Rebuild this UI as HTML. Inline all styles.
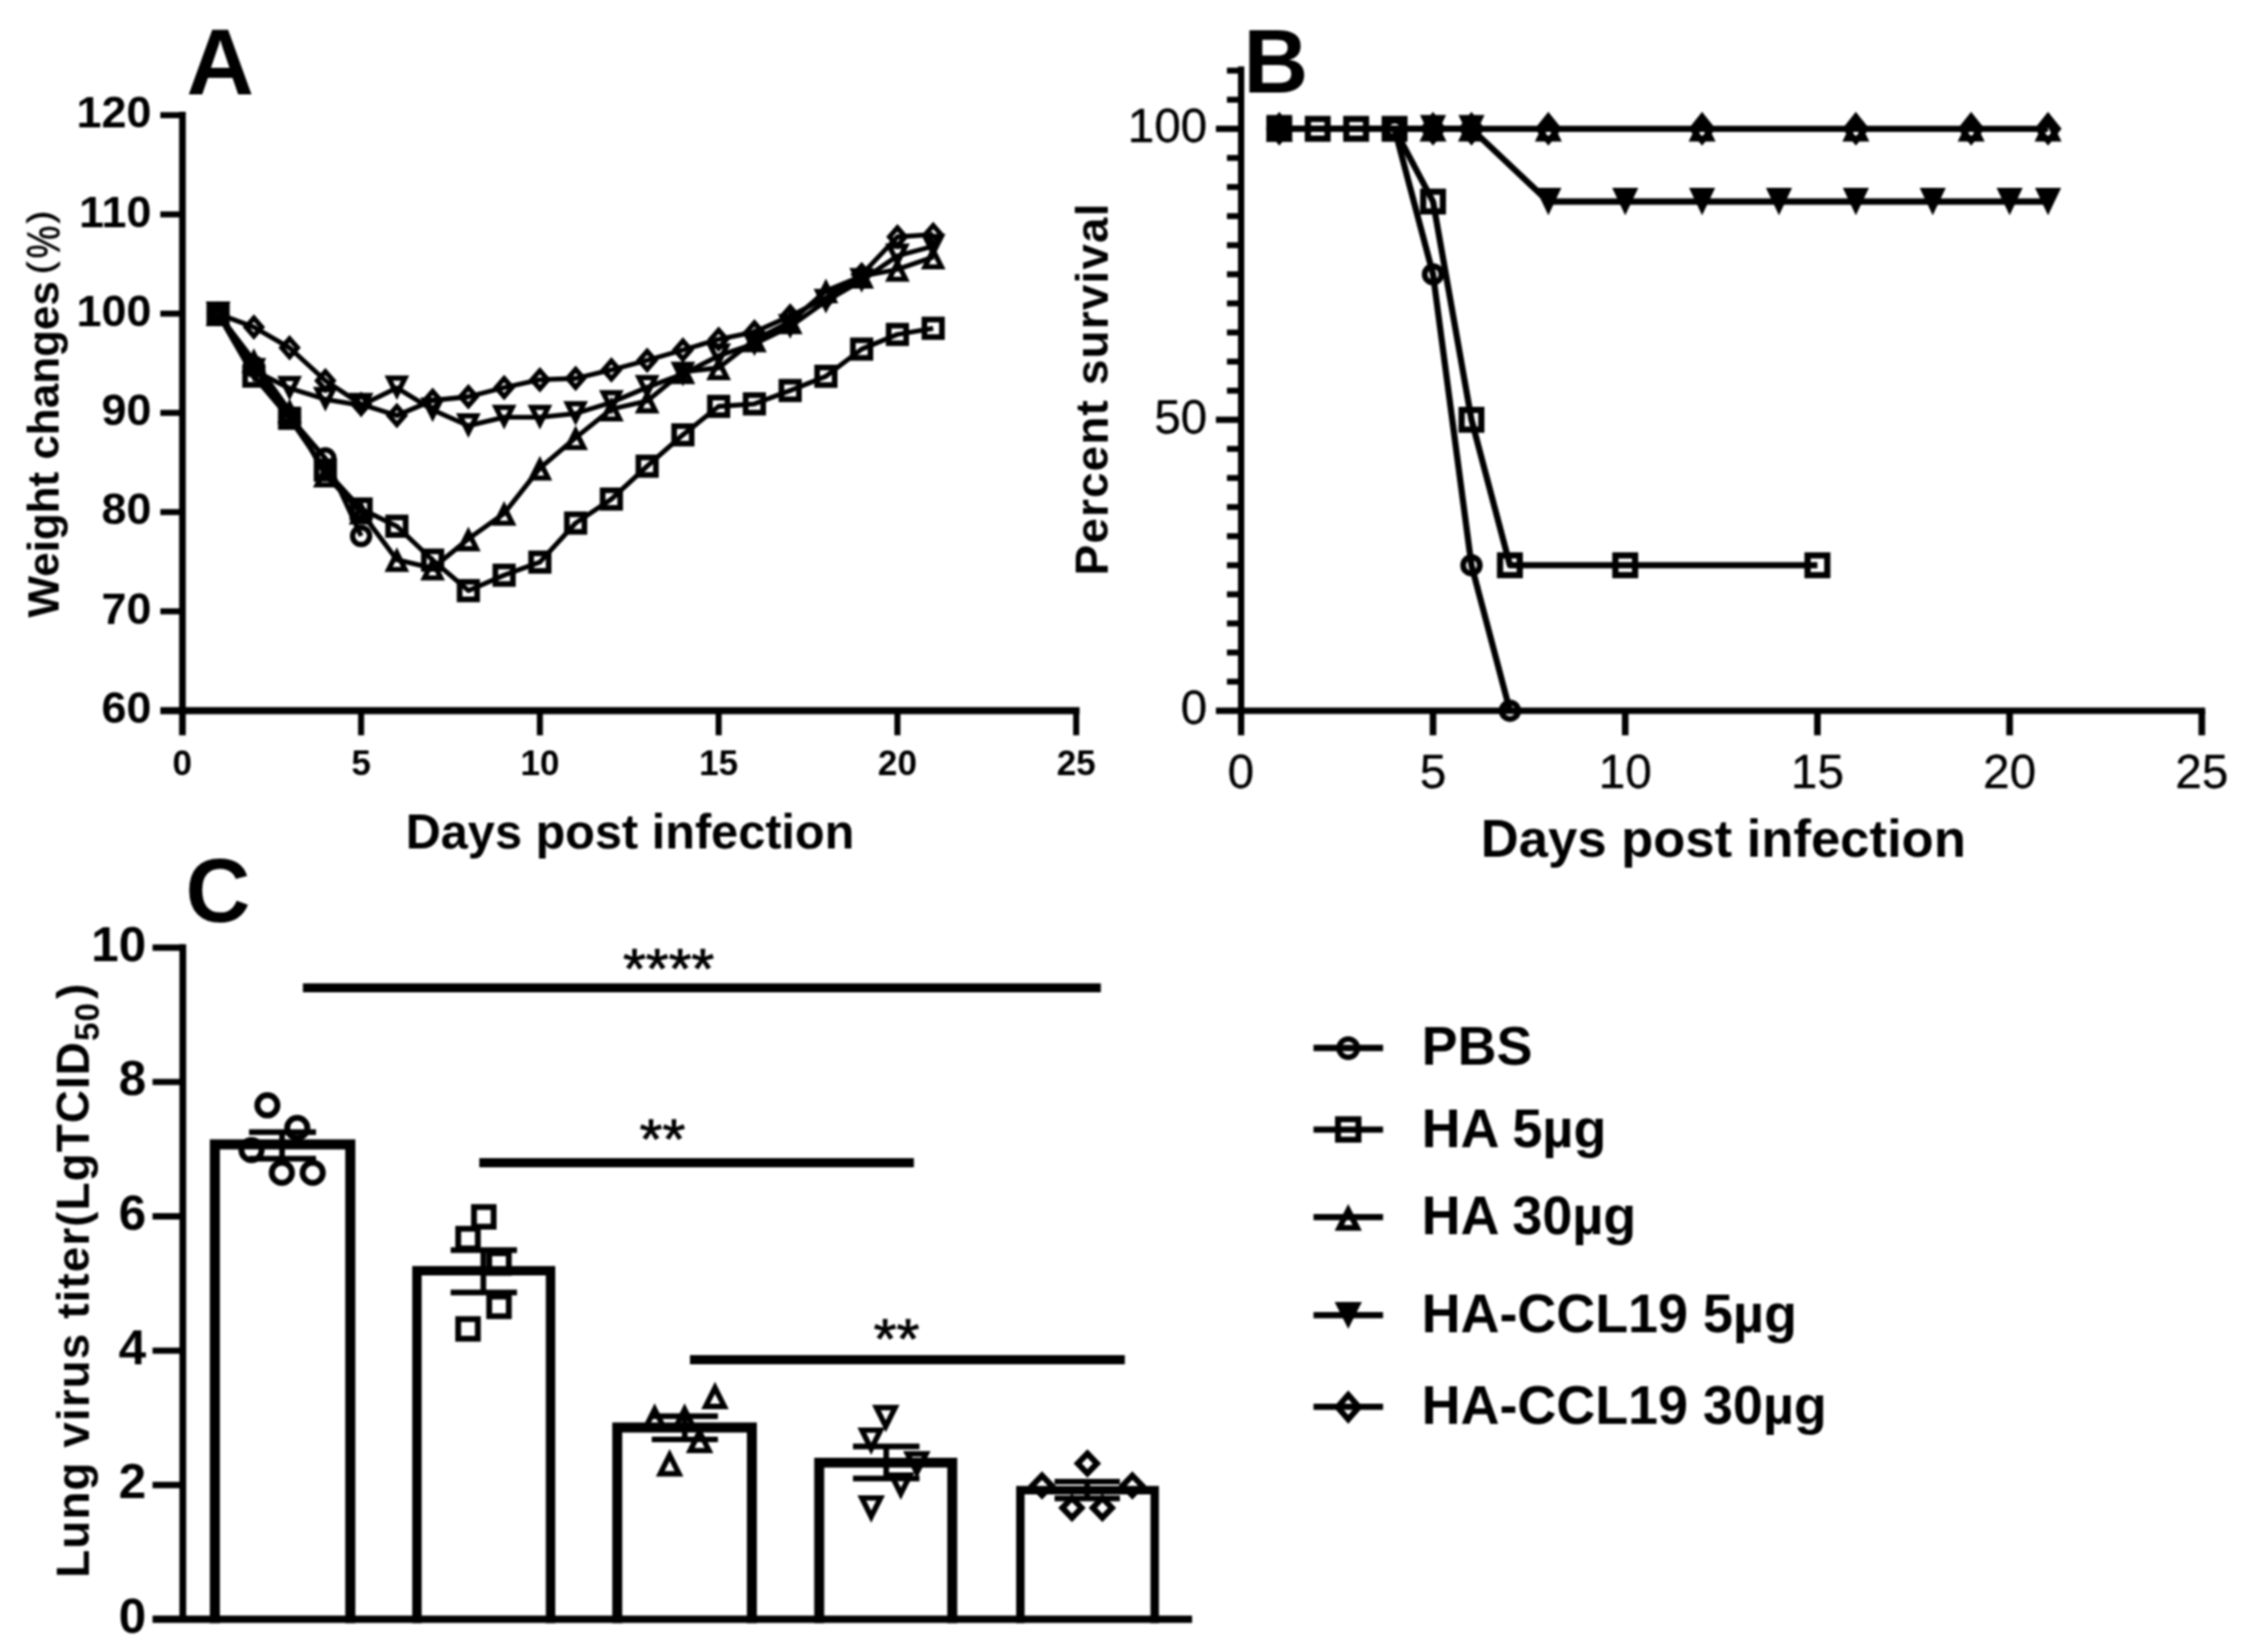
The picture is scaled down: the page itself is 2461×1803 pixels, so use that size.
<!DOCTYPE html>
<html lang="en">
<head>
<meta charset="utf-8">
<title>Figure: weight changes, survival and lung virus titer</title>
<style>
html, body { margin: 0; padding: 0; background: #fff; }
body { width: 2461px; height: 1803px; overflow: hidden; }
svg { display: block; filter: blur(0.8px); }
svg text { font-family: "Liberation Sans", sans-serif; fill: #000; }
</style>
</head>
<body>
<svg width="2461" height="1803" viewBox="0 0 2461 1803">
<rect x="0" y="0" width="2461" height="1803" fill="#fff"/>
<g id="panelA">
<line x1="199.1" y1="122" x2="199.1" y2="802.5" stroke="#000" stroke-width="7.3"/>
<line x1="175" y1="775.6" x2="1178.2" y2="775.6" stroke="#000" stroke-width="7.6"/>
<line x1="175" y1="667.2" x2="199" y2="667.2" stroke="#000" stroke-width="6.6"/>
<line x1="175" y1="558.9" x2="199" y2="558.9" stroke="#000" stroke-width="6.6"/>
<line x1="175" y1="450.6" x2="199" y2="450.6" stroke="#000" stroke-width="6.6"/>
<line x1="175" y1="342.3" x2="199" y2="342.3" stroke="#000" stroke-width="6.6"/>
<line x1="175" y1="234" x2="199" y2="234" stroke="#000" stroke-width="6.6"/>
<line x1="175" y1="125.7" x2="199" y2="125.7" stroke="#000" stroke-width="6.6"/>
<line x1="394.1" y1="775.5" x2="394.1" y2="802.5" stroke="#000" stroke-width="6.6"/>
<line x1="589.2" y1="775.5" x2="589.2" y2="802.5" stroke="#000" stroke-width="6.6"/>
<line x1="784.3" y1="775.5" x2="784.3" y2="802.5" stroke="#000" stroke-width="6.6"/>
<line x1="979.4" y1="775.5" x2="979.4" y2="802.5" stroke="#000" stroke-width="6.6"/>
<line x1="1174.5" y1="775.5" x2="1174.5" y2="802.5" stroke="#000" stroke-width="6.6"/>
<text x="165.3" y="789" font-size="49" font-weight="bold" text-anchor="end" >60</text>
<text x="165.3" y="680.7" font-size="49" font-weight="bold" text-anchor="end" >70</text>
<text x="165.3" y="572.4" font-size="49" font-weight="bold" text-anchor="end" >80</text>
<text x="165.3" y="464.1" font-size="49" font-weight="bold" text-anchor="end" >90</text>
<text x="165.3" y="355.8" font-size="49" font-weight="bold" text-anchor="end" >100</text>
<text x="165.3" y="247.5" font-size="49" font-weight="bold" text-anchor="end" >110</text>
<text x="165.3" y="139.2" font-size="49" font-weight="bold" text-anchor="end" >120</text>
<text x="199" y="845.8" font-size="38.3" font-weight="bold" text-anchor="middle" >0</text>
<text x="394.1" y="845.8" font-size="38.3" font-weight="bold" text-anchor="middle" >5</text>
<text x="589.2" y="845.8" font-size="38.3" font-weight="bold" text-anchor="middle" >10</text>
<text x="784.3" y="845.8" font-size="38.3" font-weight="bold" text-anchor="middle" >15</text>
<text x="979.4" y="845.8" font-size="38.3" font-weight="bold" text-anchor="middle" >20</text>
<text x="1174.5" y="845.8" font-size="38.3" font-weight="bold" text-anchor="middle" >25</text>
<text x="687.6" y="926" font-size="53.1" font-weight="bold" text-anchor="middle" >Days post infection</text>
<text x="203.5" y="102.5" font-size="102" font-weight="bold" text-anchor="start" >A</text>
<text transform="translate(64.3,674) rotate(-90)" font-size="48" font-weight="bold" text-anchor="start" >Weight changes</text>
<text transform="translate(57.3,299) rotate(-90)" font-size="39.5" font-weight="normal" text-anchor="start" stroke="#000" stroke-width="0.9">(</text>
<text transform="translate(64.6,282) rotate(-90) scale(0.80,1.0)" font-size="50" font-weight="normal" stroke="#000" stroke-width="0.7">%</text>
<text transform="translate(57.3,243.5) rotate(-90)" font-size="39.5" font-weight="normal" text-anchor="start" stroke="#000" stroke-width="0.9">)</text>
<polyline points="238.02,342.6 277.04,400 316.06,455 355.08,500.3 394.1,585" fill="none" stroke="#000" stroke-width="5.3" stroke-linejoin="round"/>
<polyline points="238.02,342.6 277.04,410.5 316.06,456.5 355.08,513 394.1,555.5 433.12,574.3 472.14,611.3 511.16,644.6 550.18,627.8 589.2,613.5 628.22,570.9 667.24,544.7 706.26,508.8 745.28,474.6 784.3,443.5 823.32,440.8 862.34,426.2 901.36,410.7 940.38,381 979.4,365 1018.42,358.3" fill="none" stroke="#000" stroke-width="5.3" stroke-linejoin="round"/>
<polyline points="238.02,342.6 277.04,393.5 316.06,448.5 355.08,518.5 394.1,558.9 433.12,610.8 472.14,620.1 511.16,588.2 550.18,560.3 589.2,511 628.22,477.8 667.24,446.5 706.26,437.7 745.28,405.8 784.3,401.5 823.32,371.1 862.34,351.2 901.36,317.5 940.38,301.5 979.4,294 1018.42,280.5" fill="none" stroke="#000" stroke-width="5.3" stroke-linejoin="round"/>
<polyline points="238.02,342.6 277.04,404.3 316.06,423.8 355.08,435.8 394.1,442.3 433.12,423.3 472.14,447.3 511.16,464.6 550.18,455.3 589.2,455.3 628.22,451.3 667.24,439.3 706.26,422.8 745.28,408.3 784.3,388.3 823.32,375.3 862.34,356.3 901.36,328.7 940.38,306.1 979.4,279.3 1018.42,268.8" fill="none" stroke="#000" stroke-width="5.3" stroke-linejoin="round"/>
<polyline points="238.02,342.6 277.04,357 316.06,379.6 355.08,415.4 394.1,441.2 433.12,453.5 472.14,437 511.16,433 550.18,423 589.2,414.4 628.22,413 667.24,403.7 706.26,393.3 745.28,382 784.3,370.3 823.32,362.3 862.34,345 901.36,325 940.38,299.8 979.4,258.5 1018.42,255.9" fill="none" stroke="#000" stroke-width="5.3" stroke-linejoin="round"/>
<circle cx="238.02" cy="342.6" r="9.3" fill="none" stroke="#000" stroke-width="5.9"/>
<circle cx="277.04" cy="400" r="9.3" fill="none" stroke="#000" stroke-width="5.9"/>
<circle cx="316.06" cy="455" r="9.3" fill="none" stroke="#000" stroke-width="5.9"/>
<circle cx="355.08" cy="500.3" r="9.3" fill="none" stroke="#000" stroke-width="5.9"/>
<circle cx="394.1" cy="585" r="9.3" fill="none" stroke="#000" stroke-width="5.9"/>
<rect x="228.47" y="333.05" width="19.1" height="19.1" fill="none" stroke="#000" stroke-width="6.2"/>
<rect x="267.49" y="400.95" width="19.1" height="19.1" fill="none" stroke="#000" stroke-width="6.2"/>
<rect x="306.51" y="446.95" width="19.1" height="19.1" fill="none" stroke="#000" stroke-width="6.2"/>
<rect x="345.53" y="503.45" width="19.1" height="19.1" fill="none" stroke="#000" stroke-width="6.2"/>
<rect x="384.55" y="545.95" width="19.1" height="19.1" fill="none" stroke="#000" stroke-width="6.2"/>
<rect x="423.57" y="564.75" width="19.1" height="19.1" fill="none" stroke="#000" stroke-width="6.2"/>
<rect x="462.59" y="601.75" width="19.1" height="19.1" fill="none" stroke="#000" stroke-width="6.2"/>
<rect x="501.61" y="635.05" width="19.1" height="19.1" fill="none" stroke="#000" stroke-width="6.2"/>
<rect x="540.63" y="618.25" width="19.1" height="19.1" fill="none" stroke="#000" stroke-width="6.2"/>
<rect x="579.65" y="603.95" width="19.1" height="19.1" fill="none" stroke="#000" stroke-width="6.2"/>
<rect x="618.67" y="561.35" width="19.1" height="19.1" fill="none" stroke="#000" stroke-width="6.2"/>
<rect x="657.69" y="535.15" width="19.1" height="19.1" fill="none" stroke="#000" stroke-width="6.2"/>
<rect x="696.71" y="499.25" width="19.1" height="19.1" fill="none" stroke="#000" stroke-width="6.2"/>
<rect x="735.73" y="465.05" width="19.1" height="19.1" fill="none" stroke="#000" stroke-width="6.2"/>
<rect x="774.75" y="433.95" width="19.1" height="19.1" fill="none" stroke="#000" stroke-width="6.2"/>
<rect x="813.77" y="431.25" width="19.1" height="19.1" fill="none" stroke="#000" stroke-width="6.2"/>
<rect x="852.79" y="416.65" width="19.1" height="19.1" fill="none" stroke="#000" stroke-width="6.2"/>
<rect x="891.81" y="401.15" width="19.1" height="19.1" fill="none" stroke="#000" stroke-width="6.2"/>
<rect x="930.83" y="371.45" width="19.1" height="19.1" fill="none" stroke="#000" stroke-width="6.2"/>
<rect x="969.85" y="355.45" width="19.1" height="19.1" fill="none" stroke="#000" stroke-width="6.2"/>
<rect x="1008.87" y="348.75" width="19.1" height="19.1" fill="none" stroke="#000" stroke-width="6.2"/>
<polygon points="238.02,335.36 246.99,353.3 229.05,353.3" fill="none" stroke="#000" stroke-width="5.6" stroke-linejoin="miter"/>
<polygon points="277.04,386.26 286.01,404.2 268.07,404.2" fill="none" stroke="#000" stroke-width="5.6" stroke-linejoin="miter"/>
<polygon points="316.06,441.26 325.03,459.2 307.09,459.2" fill="none" stroke="#000" stroke-width="5.6" stroke-linejoin="miter"/>
<polygon points="355.08,511.26 364.05,529.2 346.11,529.2" fill="none" stroke="#000" stroke-width="5.6" stroke-linejoin="miter"/>
<polygon points="394.1,551.66 403.07,569.6 385.13,569.6" fill="none" stroke="#000" stroke-width="5.6" stroke-linejoin="miter"/>
<polygon points="433.12,603.56 442.09,621.5 424.15,621.5" fill="none" stroke="#000" stroke-width="5.6" stroke-linejoin="miter"/>
<polygon points="472.14,612.86 481.11,630.8 463.17,630.8" fill="none" stroke="#000" stroke-width="5.6" stroke-linejoin="miter"/>
<polygon points="511.16,580.96 520.13,598.9 502.19,598.9" fill="none" stroke="#000" stroke-width="5.6" stroke-linejoin="miter"/>
<polygon points="550.18,553.06 559.15,571 541.21,571" fill="none" stroke="#000" stroke-width="5.6" stroke-linejoin="miter"/>
<polygon points="589.2,503.76 598.17,521.7 580.23,521.7" fill="none" stroke="#000" stroke-width="5.6" stroke-linejoin="miter"/>
<polygon points="628.22,470.56 637.19,488.5 619.25,488.5" fill="none" stroke="#000" stroke-width="5.6" stroke-linejoin="miter"/>
<polygon points="667.24,439.26 676.21,457.2 658.27,457.2" fill="none" stroke="#000" stroke-width="5.6" stroke-linejoin="miter"/>
<polygon points="706.26,430.46 715.23,448.4 697.29,448.4" fill="none" stroke="#000" stroke-width="5.6" stroke-linejoin="miter"/>
<polygon points="745.28,398.56 754.25,416.5 736.31,416.5" fill="none" stroke="#000" stroke-width="5.6" stroke-linejoin="miter"/>
<polygon points="784.3,394.26 793.27,412.2 775.33,412.2" fill="none" stroke="#000" stroke-width="5.6" stroke-linejoin="miter"/>
<polygon points="823.32,363.86 832.29,381.8 814.35,381.8" fill="none" stroke="#000" stroke-width="5.6" stroke-linejoin="miter"/>
<polygon points="862.34,343.96 871.31,361.9 853.37,361.9" fill="none" stroke="#000" stroke-width="5.6" stroke-linejoin="miter"/>
<polygon points="901.36,310.26 910.33,328.2 892.39,328.2" fill="none" stroke="#000" stroke-width="5.6" stroke-linejoin="miter"/>
<polygon points="940.38,294.26 949.35,312.2 931.41,312.2" fill="none" stroke="#000" stroke-width="5.6" stroke-linejoin="miter"/>
<polygon points="979.4,286.76 988.37,304.7 970.43,304.7" fill="none" stroke="#000" stroke-width="5.6" stroke-linejoin="miter"/>
<polygon points="1018.42,273.26 1027.39,291.2 1009.45,291.2" fill="none" stroke="#000" stroke-width="5.6" stroke-linejoin="miter"/>
<polygon points="238.02,349.84 246.99,331.9 229.05,331.9" fill="none" stroke="#000" stroke-width="5.6" stroke-linejoin="miter"/>
<polygon points="277.04,411.54 286.01,393.6 268.07,393.6" fill="none" stroke="#000" stroke-width="5.6" stroke-linejoin="miter"/>
<polygon points="316.06,431.04 325.03,413.1 307.09,413.1" fill="none" stroke="#000" stroke-width="5.6" stroke-linejoin="miter"/>
<polygon points="355.08,443.04 364.05,425.1 346.11,425.1" fill="none" stroke="#000" stroke-width="5.6" stroke-linejoin="miter"/>
<polygon points="394.1,449.54 403.07,431.6 385.13,431.6" fill="none" stroke="#000" stroke-width="5.6" stroke-linejoin="miter"/>
<polygon points="433.12,430.54 442.09,412.6 424.15,412.6" fill="none" stroke="#000" stroke-width="5.6" stroke-linejoin="miter"/>
<polygon points="472.14,454.54 481.11,436.6 463.17,436.6" fill="none" stroke="#000" stroke-width="5.6" stroke-linejoin="miter"/>
<polygon points="511.16,471.84 520.13,453.9 502.19,453.9" fill="none" stroke="#000" stroke-width="5.6" stroke-linejoin="miter"/>
<polygon points="550.18,462.54 559.15,444.6 541.21,444.6" fill="none" stroke="#000" stroke-width="5.6" stroke-linejoin="miter"/>
<polygon points="589.2,462.54 598.17,444.6 580.23,444.6" fill="none" stroke="#000" stroke-width="5.6" stroke-linejoin="miter"/>
<polygon points="628.22,458.54 637.19,440.6 619.25,440.6" fill="none" stroke="#000" stroke-width="5.6" stroke-linejoin="miter"/>
<polygon points="667.24,446.54 676.21,428.6 658.27,428.6" fill="none" stroke="#000" stroke-width="5.6" stroke-linejoin="miter"/>
<polygon points="706.26,430.04 715.23,412.1 697.29,412.1" fill="none" stroke="#000" stroke-width="5.6" stroke-linejoin="miter"/>
<polygon points="745.28,415.54 754.25,397.6 736.31,397.6" fill="none" stroke="#000" stroke-width="5.6" stroke-linejoin="miter"/>
<polygon points="784.3,395.54 793.27,377.6 775.33,377.6" fill="none" stroke="#000" stroke-width="5.6" stroke-linejoin="miter"/>
<polygon points="823.32,382.54 832.29,364.6 814.35,364.6" fill="none" stroke="#000" stroke-width="5.6" stroke-linejoin="miter"/>
<polygon points="862.34,363.54 871.31,345.6 853.37,345.6" fill="none" stroke="#000" stroke-width="5.6" stroke-linejoin="miter"/>
<polygon points="901.36,335.94 910.33,318 892.39,318" fill="none" stroke="#000" stroke-width="5.6" stroke-linejoin="miter"/>
<polygon points="940.38,313.34 949.35,295.4 931.41,295.4" fill="none" stroke="#000" stroke-width="5.6" stroke-linejoin="miter"/>
<polygon points="979.4,286.54 988.37,268.6 970.43,268.6" fill="none" stroke="#000" stroke-width="5.6" stroke-linejoin="miter"/>
<polygon points="1018.42,276.04 1027.39,258.1 1009.45,258.1" fill="none" stroke="#000" stroke-width="5.6" stroke-linejoin="miter"/>
<polygon points="238.02,332.7 246.68,342.6 238.02,352.5 229.36,342.6" fill="none" stroke="#000" stroke-width="5.4" stroke-linejoin="miter"/>
<polygon points="277.04,347.1 285.7,357 277.04,366.9 268.38,357" fill="none" stroke="#000" stroke-width="5.4" stroke-linejoin="miter"/>
<polygon points="316.06,369.7 324.72,379.6 316.06,389.5 307.4,379.6" fill="none" stroke="#000" stroke-width="5.4" stroke-linejoin="miter"/>
<polygon points="355.08,405.5 363.74,415.4 355.08,425.3 346.42,415.4" fill="none" stroke="#000" stroke-width="5.4" stroke-linejoin="miter"/>
<polygon points="394.1,431.3 402.76,441.2 394.1,451.1 385.44,441.2" fill="none" stroke="#000" stroke-width="5.4" stroke-linejoin="miter"/>
<polygon points="433.12,443.6 441.78,453.5 433.12,463.4 424.46,453.5" fill="none" stroke="#000" stroke-width="5.4" stroke-linejoin="miter"/>
<polygon points="472.14,427.1 480.8,437 472.14,446.9 463.48,437" fill="none" stroke="#000" stroke-width="5.4" stroke-linejoin="miter"/>
<polygon points="511.16,423.1 519.82,433 511.16,442.9 502.5,433" fill="none" stroke="#000" stroke-width="5.4" stroke-linejoin="miter"/>
<polygon points="550.18,413.1 558.84,423 550.18,432.9 541.52,423" fill="none" stroke="#000" stroke-width="5.4" stroke-linejoin="miter"/>
<polygon points="589.2,404.5 597.86,414.4 589.2,424.3 580.54,414.4" fill="none" stroke="#000" stroke-width="5.4" stroke-linejoin="miter"/>
<polygon points="628.22,403.1 636.88,413 628.22,422.9 619.56,413" fill="none" stroke="#000" stroke-width="5.4" stroke-linejoin="miter"/>
<polygon points="667.24,393.8 675.9,403.7 667.24,413.6 658.58,403.7" fill="none" stroke="#000" stroke-width="5.4" stroke-linejoin="miter"/>
<polygon points="706.26,383.4 714.92,393.3 706.26,403.2 697.6,393.3" fill="none" stroke="#000" stroke-width="5.4" stroke-linejoin="miter"/>
<polygon points="745.28,372.1 753.94,382 745.28,391.9 736.62,382" fill="none" stroke="#000" stroke-width="5.4" stroke-linejoin="miter"/>
<polygon points="784.3,360.4 792.96,370.3 784.3,380.2 775.64,370.3" fill="none" stroke="#000" stroke-width="5.4" stroke-linejoin="miter"/>
<polygon points="823.32,352.4 831.98,362.3 823.32,372.2 814.66,362.3" fill="none" stroke="#000" stroke-width="5.4" stroke-linejoin="miter"/>
<polygon points="862.34,335.1 871,345 862.34,354.9 853.68,345" fill="none" stroke="#000" stroke-width="5.4" stroke-linejoin="miter"/>
<polygon points="901.36,315.1 910.02,325 901.36,334.9 892.7,325" fill="none" stroke="#000" stroke-width="5.4" stroke-linejoin="miter"/>
<polygon points="940.38,289.9 949.04,299.8 940.38,309.7 931.72,299.8" fill="none" stroke="#000" stroke-width="5.4" stroke-linejoin="miter"/>
<polygon points="979.4,248.6 988.06,258.5 979.4,268.4 970.74,258.5" fill="none" stroke="#000" stroke-width="5.4" stroke-linejoin="miter"/>
<polygon points="1018.42,246 1027.08,255.9 1018.42,265.8 1009.76,255.9" fill="none" stroke="#000" stroke-width="5.4" stroke-linejoin="miter"/>
</g>
<g id="panelB">
<line x1="1354.5" y1="72.5" x2="1354.5" y2="802.5" stroke="#000" stroke-width="6.9"/>
<line x1="1327" y1="775.7" x2="2406.6" y2="775.7" stroke="#000" stroke-width="7.1"/>
<line x1="1339" y1="743.95" x2="1354.5" y2="743.95" stroke="#000" stroke-width="6.5"/>
<line x1="1339" y1="712.19" x2="1354.5" y2="712.19" stroke="#000" stroke-width="6.5"/>
<line x1="1339" y1="680.44" x2="1354.5" y2="680.44" stroke="#000" stroke-width="6.5"/>
<line x1="1339" y1="648.68" x2="1354.5" y2="648.68" stroke="#000" stroke-width="6.5"/>
<line x1="1339" y1="616.93" x2="1354.5" y2="616.93" stroke="#000" stroke-width="6.5"/>
<line x1="1339" y1="585.17" x2="1354.5" y2="585.17" stroke="#000" stroke-width="6.5"/>
<line x1="1339" y1="553.42" x2="1354.5" y2="553.42" stroke="#000" stroke-width="6.5"/>
<line x1="1339" y1="521.66" x2="1354.5" y2="521.66" stroke="#000" stroke-width="6.5"/>
<line x1="1339" y1="489.91" x2="1354.5" y2="489.91" stroke="#000" stroke-width="6.5"/>
<line x1="1327" y1="458.15" x2="1354.5" y2="458.15" stroke="#000" stroke-width="6.9"/>
<line x1="1339" y1="426.4" x2="1354.5" y2="426.4" stroke="#000" stroke-width="6.5"/>
<line x1="1339" y1="394.64" x2="1354.5" y2="394.64" stroke="#000" stroke-width="6.5"/>
<line x1="1339" y1="362.89" x2="1354.5" y2="362.89" stroke="#000" stroke-width="6.5"/>
<line x1="1339" y1="331.13" x2="1354.5" y2="331.13" stroke="#000" stroke-width="6.5"/>
<line x1="1339" y1="299.38" x2="1354.5" y2="299.38" stroke="#000" stroke-width="6.5"/>
<line x1="1339" y1="267.62" x2="1354.5" y2="267.62" stroke="#000" stroke-width="6.5"/>
<line x1="1339" y1="235.87" x2="1354.5" y2="235.87" stroke="#000" stroke-width="6.5"/>
<line x1="1339" y1="204.11" x2="1354.5" y2="204.11" stroke="#000" stroke-width="6.5"/>
<line x1="1339" y1="172.36" x2="1354.5" y2="172.36" stroke="#000" stroke-width="6.5"/>
<line x1="1327" y1="140.6" x2="1354.5" y2="140.6" stroke="#000" stroke-width="6.9"/>
<line x1="1339" y1="108.85" x2="1354.5" y2="108.85" stroke="#000" stroke-width="6.5"/>
<line x1="1339" y1="77.09" x2="1354.5" y2="77.09" stroke="#000" stroke-width="6.5"/>
<line x1="1563.95" y1="775.7" x2="1563.95" y2="802.5" stroke="#000" stroke-width="7.2"/>
<line x1="1773.7" y1="775.7" x2="1773.7" y2="802.5" stroke="#000" stroke-width="7.2"/>
<line x1="1983.45" y1="775.7" x2="1983.45" y2="802.5" stroke="#000" stroke-width="7.2"/>
<line x1="2193.2" y1="775.7" x2="2193.2" y2="802.5" stroke="#000" stroke-width="7.2"/>
<line x1="2402.95" y1="775.7" x2="2402.95" y2="802.5" stroke="#000" stroke-width="7.2"/>
<text x="1317.5" y="790.2" font-size="52" font-weight="normal" text-anchor="end" stroke="#000" stroke-width="0.3">0</text>
<text x="1317.5" y="472.65" font-size="52" font-weight="normal" text-anchor="end" stroke="#000" stroke-width="0.3">50</text>
<text x="1317.5" y="155.1" font-size="52" font-weight="normal" text-anchor="end" stroke="#000" stroke-width="0.3">100</text>
<text x="1354.2" y="860" font-size="52" font-weight="normal" text-anchor="middle" stroke="#000" stroke-width="0.3">0</text>
<text x="1563.95" y="860" font-size="52" font-weight="normal" text-anchor="middle" stroke="#000" stroke-width="0.3">5</text>
<text x="1773.7" y="860" font-size="52" font-weight="normal" text-anchor="middle" stroke="#000" stroke-width="0.3">10</text>
<text x="1983.45" y="860" font-size="52" font-weight="normal" text-anchor="middle" stroke="#000" stroke-width="0.3">15</text>
<text x="2193.2" y="860" font-size="52" font-weight="normal" text-anchor="middle" stroke="#000" stroke-width="0.3">20</text>
<text x="2402.95" y="860" font-size="52" font-weight="normal" text-anchor="middle" stroke="#000" stroke-width="0.3">25</text>
<text x="1880.8" y="935" font-size="57.4" font-weight="bold" text-anchor="middle" >Days post infection</text>
<text x="1357" y="100.5" font-size="98" font-weight="bold" text-anchor="start" >B</text>
<text transform="translate(1209,628) rotate(-90)" font-size="50" font-weight="bold" text-anchor="start" letter-spacing="1.3">Percent survival</text>
<polyline points="1396.15,140.6 1522,140.6 1563.95,299.38 1605.9,616.93 1647.85,775.7" fill="none" stroke="#000" stroke-width="6.8" stroke-linejoin="round"/>
<polyline points="1396.15,140.6 1438.1,140.6 1480.05,140.6 1522,140.6 1563.95,219.99 1605.9,458.15 1647.85,616.93 1773.7,616.93 1983.45,616.93" fill="none" stroke="#000" stroke-width="6.8" stroke-linejoin="round"/>
<polyline points="1396.15,140.6 1563.95,140.6 1605.9,140.6 1689.8,140.6 1857.6,140.6 2025.4,140.6 2151.25,140.6 2235.15,140.6" fill="none" stroke="#000" stroke-width="6.8" stroke-linejoin="round"/>
<polyline points="1396.15,140.6 1563.95,140.6 1605.9,140.6 1689.8,219.99 1773.7,219.99 1857.6,219.99 1941.5,219.99 2025.4,219.99 2109.3,219.99 2193.2,219.99 2235.15,219.99" fill="none" stroke="#000" stroke-width="6.8" stroke-linejoin="round"/>
<circle cx="1396.15" cy="140.6" r="9.1" fill="none" stroke="#000" stroke-width="6.3"/>
<circle cx="1522" cy="140.6" r="9.1" fill="none" stroke="#000" stroke-width="6.3"/>
<circle cx="1563.95" cy="299.38" r="9.1" fill="none" stroke="#000" stroke-width="6.3"/>
<circle cx="1605.9" cy="616.93" r="9.1" fill="none" stroke="#000" stroke-width="6.3"/>
<circle cx="1647.85" cy="775.7" r="9.1" fill="none" stroke="#000" stroke-width="6.3"/>
<rect x="1385.4" y="129.85" width="21.5" height="21.5" fill="none" stroke="#000" stroke-width="6.8"/>
<rect x="1427.35" y="129.85" width="21.5" height="21.5" fill="none" stroke="#000" stroke-width="6.8"/>
<rect x="1469.3" y="129.85" width="21.5" height="21.5" fill="none" stroke="#000" stroke-width="6.8"/>
<rect x="1511.25" y="129.85" width="21.5" height="21.5" fill="none" stroke="#000" stroke-width="6.8"/>
<rect x="1553.2" y="209.24" width="21.5" height="21.5" fill="none" stroke="#000" stroke-width="6.8"/>
<rect x="1595.15" y="447.4" width="21.5" height="21.5" fill="none" stroke="#000" stroke-width="6.8"/>
<rect x="1637.1" y="606.18" width="21.5" height="21.5" fill="none" stroke="#000" stroke-width="6.8"/>
<rect x="1762.95" y="606.18" width="21.5" height="21.5" fill="none" stroke="#000" stroke-width="6.8"/>
<rect x="1972.7" y="606.18" width="21.5" height="21.5" fill="none" stroke="#000" stroke-width="6.8"/>
<polygon points="1396.15,131.54 1405.84,151.25 1386.46,151.25" fill="none" stroke="#000" stroke-width="6.3" stroke-linejoin="miter"/>
<polygon points="1563.95,131.54 1573.64,151.25 1554.26,151.25" fill="none" stroke="#000" stroke-width="6.3" stroke-linejoin="miter"/>
<polygon points="1605.9,131.54 1615.59,151.25 1596.21,151.25" fill="none" stroke="#000" stroke-width="6.3" stroke-linejoin="miter"/>
<polygon points="1689.8,131.54 1699.49,151.25 1680.11,151.25" fill="none" stroke="#000" stroke-width="6.3" stroke-linejoin="miter"/>
<polygon points="1857.6,131.54 1867.29,151.25 1847.91,151.25" fill="none" stroke="#000" stroke-width="6.3" stroke-linejoin="miter"/>
<polygon points="2025.4,131.54 2035.09,151.25 2015.71,151.25" fill="none" stroke="#000" stroke-width="6.3" stroke-linejoin="miter"/>
<polygon points="2151.25,131.54 2160.94,151.25 2141.56,151.25" fill="none" stroke="#000" stroke-width="6.3" stroke-linejoin="miter"/>
<polygon points="2235.15,131.54 2244.84,151.25 2225.46,151.25" fill="none" stroke="#000" stroke-width="6.3" stroke-linejoin="miter"/>
<polygon points="1396.15,155.6 1410.4,125.6 1381.9,125.6" fill="#000"/>
<polygon points="1563.95,155.6 1578.2,125.6 1549.7,125.6" fill="#000"/>
<polygon points="1605.9,155.6 1620.15,125.6 1591.65,125.6" fill="#000"/>
<polygon points="1689.8,234.99 1704.05,204.99 1675.55,204.99" fill="#000"/>
<polygon points="1773.7,234.99 1787.95,204.99 1759.45,204.99" fill="#000"/>
<polygon points="1857.6,234.99 1871.85,204.99 1843.35,204.99" fill="#000"/>
<polygon points="1941.5,234.99 1955.75,204.99 1927.25,204.99" fill="#000"/>
<polygon points="2025.4,234.99 2039.65,204.99 2011.15,204.99" fill="#000"/>
<polygon points="2109.3,234.99 2123.55,204.99 2095.05,204.99" fill="#000"/>
<polygon points="2193.2,234.99 2207.45,204.99 2178.95,204.99" fill="#000"/>
<polygon points="2235.15,234.99 2249.4,204.99 2220.9,204.99" fill="#000"/>
<polygon points="1396.15,127.15 1406.87,140.6 1396.15,154.05 1385.43,140.6" fill="none" stroke="#000" stroke-width="6.3" stroke-linejoin="miter"/>
<polygon points="1563.95,127.15 1574.67,140.6 1563.95,154.05 1553.23,140.6" fill="none" stroke="#000" stroke-width="6.3" stroke-linejoin="miter"/>
<polygon points="1605.9,127.15 1616.62,140.6 1605.9,154.05 1595.18,140.6" fill="none" stroke="#000" stroke-width="6.3" stroke-linejoin="miter"/>
<polygon points="1689.8,127.15 1700.52,140.6 1689.8,154.05 1679.08,140.6" fill="none" stroke="#000" stroke-width="6.3" stroke-linejoin="miter"/>
<polygon points="1857.6,127.15 1868.32,140.6 1857.6,154.05 1846.88,140.6" fill="none" stroke="#000" stroke-width="6.3" stroke-linejoin="miter"/>
<polygon points="2025.4,127.15 2036.12,140.6 2025.4,154.05 2014.68,140.6" fill="none" stroke="#000" stroke-width="6.3" stroke-linejoin="miter"/>
<polygon points="2151.25,127.15 2161.97,140.6 2151.25,154.05 2140.53,140.6" fill="none" stroke="#000" stroke-width="6.3" stroke-linejoin="miter"/>
<polygon points="2235.15,127.15 2245.87,140.6 2235.15,154.05 2224.43,140.6" fill="none" stroke="#000" stroke-width="6.3" stroke-linejoin="miter"/>
</g>
<g id="panelC">
<line x1="199.5" y1="1030.5" x2="199.5" y2="1767" stroke="#000" stroke-width="7.4"/>
<line x1="166.5" y1="1767.2" x2="1301" y2="1767.2" stroke="#000" stroke-width="8"/>
<line x1="166.5" y1="1620.7" x2="199.5" y2="1620.7" stroke="#000" stroke-width="6.9"/>
<line x1="166.5" y1="1474.1" x2="199.5" y2="1474.1" stroke="#000" stroke-width="6.9"/>
<line x1="166.5" y1="1327.5" x2="199.5" y2="1327.5" stroke="#000" stroke-width="6.9"/>
<line x1="166.5" y1="1180.9" x2="199.5" y2="1180.9" stroke="#000" stroke-width="6.9"/>
<line x1="166.5" y1="1034.3" x2="199.5" y2="1034.3" stroke="#000" stroke-width="6.9"/>
<text x="159.5" y="1781.8" font-size="54" font-weight="bold" text-anchor="end" >0</text>
<text x="159.5" y="1635.2" font-size="54" font-weight="bold" text-anchor="end" >2</text>
<text x="159.5" y="1488.6" font-size="54" font-weight="bold" text-anchor="end" >4</text>
<text x="159.5" y="1342" font-size="54" font-weight="bold" text-anchor="end" >6</text>
<text x="159.5" y="1195.4" font-size="54" font-weight="bold" text-anchor="end" >8</text>
<text x="159.5" y="1048.8" font-size="54" font-weight="bold" text-anchor="end" >10</text>
<text x="202.5" y="1006" font-size="98" font-weight="bold" text-anchor="start" >C</text>
<text transform="translate(96.5,1722) rotate(-90)" font-size="50" font-weight="bold" text-anchor="start" letter-spacing="1.2">Lung virus titer(LgTCID<tspan font-size="36" dy="11">50</tspan><tspan dy="-11" dx="3.5">)</tspan></text>
<path d="M234.5,1771.5 V1249 H382.3 V1771.5" fill="none" stroke="#000" stroke-width="11" stroke-linejoin="miter"/>
<path d="M455.05,1771.5 V1386.85 H600.85 V1771.5" fill="none" stroke="#000" stroke-width="10.3" stroke-linejoin="miter"/>
<path d="M673.65,1771.5 V1557.95 H820.55 V1771.5" fill="none" stroke="#000" stroke-width="10.9" stroke-linejoin="miter"/>
<path d="M894.05,1771.5 V1596.35 H1039.25 V1771.5" fill="none" stroke="#000" stroke-width="10.9" stroke-linejoin="miter"/>
<path d="M1113.6,1771.5 V1626.4 H1260.2 V1771.5" fill="none" stroke="#000" stroke-width="9.2" stroke-linejoin="miter"/>
<line x1="307.8" y1="1235.6" x2="307.8" y2="1264.7" stroke="#000" stroke-width="6.2"/>
<line x1="271.8" y1="1235.6" x2="344.9" y2="1235.6" stroke="#000" stroke-width="6.2"/>
<line x1="271.8" y1="1264.7" x2="344.9" y2="1264.7" stroke="#000" stroke-width="6.2"/>
<line x1="527.5" y1="1364.3" x2="527.5" y2="1410.6" stroke="#000" stroke-width="6.2"/>
<line x1="491.8" y1="1364.3" x2="564.2" y2="1364.3" stroke="#000" stroke-width="6.2"/>
<line x1="491.8" y1="1410.6" x2="564.2" y2="1410.6" stroke="#000" stroke-width="6.2"/>
<line x1="747.3" y1="1545.6" x2="747.3" y2="1571" stroke="#000" stroke-width="6.2"/>
<line x1="711.3" y1="1545.6" x2="783.5" y2="1545.6" stroke="#000" stroke-width="6.2"/>
<line x1="711.3" y1="1571" x2="783.5" y2="1571" stroke="#000" stroke-width="6.2"/>
<line x1="967.2" y1="1578.6" x2="967.2" y2="1613.6" stroke="#000" stroke-width="6.2"/>
<line x1="930.9" y1="1578.6" x2="1003.5" y2="1578.6" stroke="#000" stroke-width="6.2"/>
<line x1="930.9" y1="1613.6" x2="1003.5" y2="1613.6" stroke="#000" stroke-width="6.2"/>
<line x1="1186.5" y1="1617" x2="1186.5" y2="1635.4" stroke="#000" stroke-width="6.2"/>
<line x1="1150.9" y1="1617" x2="1222.2" y2="1617" stroke="#000" stroke-width="6.2"/>
<line x1="1150.9" y1="1635.4" x2="1222.2" y2="1635.4" stroke="#000" stroke-width="6.2"/>
<circle cx="291.8" cy="1206.3" r="11" fill="none" stroke="#000" stroke-width="6.5"/>
<circle cx="324.4" cy="1231" r="11" fill="none" stroke="#000" stroke-width="6.5"/>
<circle cx="274.5" cy="1255.2" r="11" fill="none" stroke="#000" stroke-width="6.5"/>
<circle cx="307.6" cy="1279.9" r="11" fill="none" stroke="#000" stroke-width="6.5"/>
<circle cx="341.3" cy="1279.9" r="11" fill="none" stroke="#000" stroke-width="6.5"/>
<rect x="517.3" y="1317.4" width="21.4" height="21.4" fill="none" stroke="#000" stroke-width="6.4"/>
<rect x="500.1" y="1341.1" width="21.4" height="21.4" fill="none" stroke="#000" stroke-width="6.4"/>
<rect x="533.9" y="1367.8" width="21.4" height="21.4" fill="none" stroke="#000" stroke-width="6.4"/>
<rect x="533.9" y="1415.1" width="21.4" height="21.4" fill="none" stroke="#000" stroke-width="6.4"/>
<rect x="500.1" y="1439.7" width="21.4" height="21.4" fill="none" stroke="#000" stroke-width="6.4"/>
<polygon points="780.3,1514.6 790.53,1535.05 770.07,1535.05" fill="none" stroke="#000" stroke-width="5.9" stroke-linejoin="miter"/>
<polygon points="714.5,1538.2 724.73,1558.65 704.27,1558.65" fill="none" stroke="#000" stroke-width="5.9" stroke-linejoin="miter"/>
<polygon points="747.2,1538.2 757.43,1558.65 736.97,1558.65" fill="none" stroke="#000" stroke-width="5.9" stroke-linejoin="miter"/>
<polygon points="763.5,1562.7 773.73,1583.15 753.27,1583.15" fill="none" stroke="#000" stroke-width="5.9" stroke-linejoin="miter"/>
<polygon points="730.8,1588 741.03,1608.45 720.57,1608.45" fill="none" stroke="#000" stroke-width="5.9" stroke-linejoin="miter"/>
<polygon points="966.7,1556.7 976.93,1536.25 956.47,1536.25" fill="none" stroke="#000" stroke-width="5.9" stroke-linejoin="miter"/>
<polygon points="950.8,1581.3 961.03,1560.85 940.57,1560.85" fill="none" stroke="#000" stroke-width="5.9" stroke-linejoin="miter"/>
<polygon points="1000.6,1607.2 1010.83,1586.75 990.37,1586.75" fill="none" stroke="#000" stroke-width="5.9" stroke-linejoin="miter"/>
<polygon points="983.1,1630.3 993.33,1609.85 972.87,1609.85" fill="none" stroke="#000" stroke-width="5.9" stroke-linejoin="miter"/>
<polygon points="950.8,1655.3 961.03,1634.85 940.57,1634.85" fill="none" stroke="#000" stroke-width="5.9" stroke-linejoin="miter"/>
<polygon points="1186.7,1586.37 1197.18,1597.2 1186.7,1608.03 1176.22,1597.2" fill="none" stroke="#000" stroke-width="6.5" stroke-linejoin="miter"/>
<polygon points="1137.2,1610.47 1147.68,1621.3 1137.2,1632.13 1126.72,1621.3" fill="none" stroke="#000" stroke-width="6.5" stroke-linejoin="miter"/>
<polygon points="1235.8,1610.47 1246.28,1621.3 1235.8,1632.13 1225.32,1621.3" fill="none" stroke="#000" stroke-width="6.5" stroke-linejoin="miter"/>
<polygon points="1169.9,1634.97 1180.38,1645.8 1169.9,1656.63 1159.42,1645.8" fill="none" stroke="#000" stroke-width="6.5" stroke-linejoin="miter"/>
<polygon points="1203.1,1634.97 1213.58,1645.8 1203.1,1656.63 1192.62,1645.8" fill="none" stroke="#000" stroke-width="6.5" stroke-linejoin="miter"/>
<line x1="330.6" y1="1078.2" x2="1201.4" y2="1078.2" stroke="#000" stroke-width="9.8"/>
<line x1="523.1" y1="1269" x2="997.4" y2="1269" stroke="#000" stroke-width="10"/>
<line x1="753" y1="1484" x2="1227.6" y2="1484" stroke="#000" stroke-width="10"/>
<text transform="translate(729.7,1077.6) scale(1,0.955)" font-size="64" font-weight="normal" stroke="#000" stroke-width="1" text-anchor="middle">****</text>
<text transform="translate(723,1263.9) scale(1,0.955)" font-size="64" font-weight="normal" stroke="#000" stroke-width="1" text-anchor="middle">**</text>
<text transform="translate(978.5,1482.2) scale(1,0.955)" font-size="64" font-weight="normal" stroke="#000" stroke-width="1" text-anchor="middle">**</text>
</g>
<g id="legend">
<line x1="1433.5" y1="1143.8" x2="1509.4" y2="1143.8" stroke="#000" stroke-width="6.9"/>
<circle cx="1471.4" cy="1144" r="10" fill="none" stroke="#000" stroke-width="6"/>
<text x="1551.5" y="1162" font-size="58.8" font-weight="bold" text-anchor="start" >PBS</text>
<line x1="1433.5" y1="1232.9" x2="1509.4" y2="1232.9" stroke="#000" stroke-width="6.9"/>
<rect x="1460.25" y="1221.55" width="22.3" height="22.3" fill="none" stroke="#000" stroke-width="6.5"/>
<text x="1551.5" y="1251.8" font-size="58.8" font-weight="bold" text-anchor="start" >HA 5µg</text>
<line x1="1433.5" y1="1328.4" x2="1509.4" y2="1328.4" stroke="#000" stroke-width="6.9"/>
<polygon points="1471.4,1321.02 1481.12,1340.2 1461.68,1340.2" fill="none" stroke="#000" stroke-width="6.3" stroke-linejoin="miter"/>
<text x="1551.5" y="1347.4" font-size="58.8" font-weight="bold" text-anchor="start" >HA 30µg</text>
<line x1="1433.5" y1="1435.4" x2="1509.4" y2="1435.4" stroke="#000" stroke-width="6.9"/>
<polygon points="1471.4,1450.35 1486.25,1421.05 1456.55,1421.05" fill="#000"/>
<text x="1551.5" y="1453.6" font-size="58.8" font-weight="bold" text-anchor="start" >HA-CCL19 5µg</text>
<line x1="1433.5" y1="1535.4" x2="1509.4" y2="1535.4" stroke="#000" stroke-width="6.9"/>
<polygon points="1471.4,1522.38 1483.08,1535.7 1471.4,1549.02 1459.72,1535.7" fill="none" stroke="#000" stroke-width="6.5" stroke-linejoin="miter"/>
<text x="1551.5" y="1553.7" font-size="58.8" font-weight="bold" text-anchor="start" >HA-CCL19 30µg</text>
</g>
</svg>
</body>
</html>
